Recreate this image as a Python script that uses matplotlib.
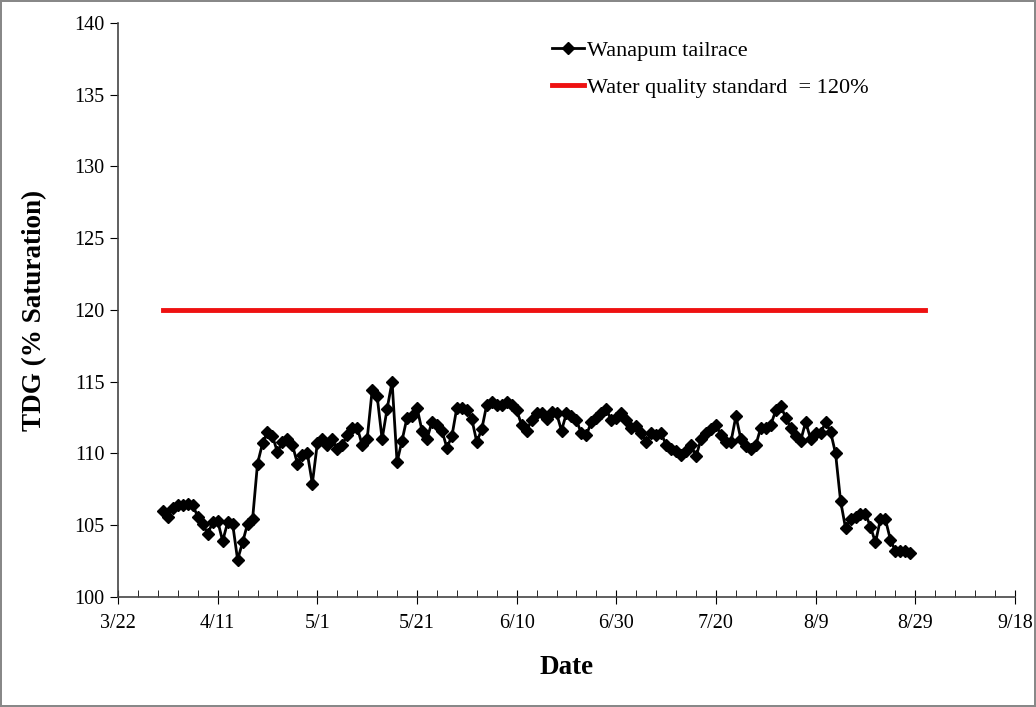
import matplotlib
matplotlib.use("Agg")
import matplotlib.pyplot as plt
import numpy as np
import datetime as dt

# daily TDG readings at Wanapum tailrace, starting 3/31
start = dt.date(2010, 3, 31)
tdg = [
    106.0, 105.6, 106.2, 106.4, 106.4, 106.5, 106.4, 105.6, 105.1, 104.4,
    105.2, 105.3, 103.9, 105.2, 105.1, 102.6, 103.8, 105.1, 105.4, 109.3,
    110.7, 111.5, 111.2, 110.1, 110.8, 111.0, 110.6, 109.3, 109.9, 110.0,
    107.9, 110.7, 111.0, 110.6, 111.0, 110.3, 110.6, 111.3, 111.8, 111.8,
    110.6, 111.0, 114.4, 114.0, 111.0, 113.1, 115.0, 109.4, 110.9, 112.5,
    112.6, 113.2, 111.6, 111.0, 112.2, 112.0, 111.6, 110.4, 111.2, 113.2,
    113.2, 113.0, 112.4, 110.8, 111.7, 113.4, 113.6, 113.4, 113.4, 113.6,
    113.4, 113.0, 112.0, 111.6, 112.3, 112.8, 112.8, 112.4, 112.9, 112.8,
    111.6, 112.8, 112.6, 112.3, 111.4, 111.3, 112.2, 112.5, 112.8, 113.1,
    112.3, 112.5, 112.8, 112.3, 111.8, 111.9, 111.4, 110.8, 111.4, 111.3,
    111.4, 110.6, 110.3, 110.2, 109.9, 110.2, 110.6, 109.8, 111.0, 111.4,
    111.7, 112.0, 111.3, 110.8, 110.8, 112.6, 111.0, 110.5, 110.3, 110.6,
    111.8, 111.8, 112.0, 113.0, 113.3, 112.5, 111.8, 111.2, 110.9, 112.2,
    111.0, 111.4, 111.4, 112.2, 111.5, 110.0, 106.7, 104.8, 105.4, 105.6,
    105.8, 105.8, 104.9, 103.8, 105.4, 105.4, 104.0, 103.2, 103.2, 103.2,
    103.1,
]
dates = [start + dt.timedelta(days=i) for i in range(len(tdg))]

std_dates = [dt.date(2010, 3, 31), dt.date(2010, 8, 31)]
std_vals = [120, 120]

plt.rcParams['font.family'] = ['Liberation Serif', 'DejaVu Serif']

fig = plt.figure(figsize=(10.36, 7.07), dpi=100)
fig.patch.set_edgecolor('#888888')
fig.patch.set_linewidth(1.5)
ax = fig.add_axes([0.1139, 0.1556, 0.8658, 0.8119])

ax.plot(dates, tdg, color='black', lw=2, marker='D', ms=6, label='Wanapum tailrace')
ax.plot(std_dates, std_vals, color='#ee1111', lw=3.5, label='Water quality standard  = 120%')

ax.set_xlim(dt.date(2010, 3, 22), dt.date(2010, 9, 18))
ax.set_ylim(100, 140)
ax.set_yticks(np.arange(100, 141, 5))

ticks = [dt.date(2010, 3, 22) + dt.timedelta(days=20 * i) for i in range(10)]
ax.set_xticks(ticks)
ax.set_xticklabels([f"{d.month}/{d.day}" for d in ticks])
minor = [dt.date(2010, 3, 22) + dt.timedelta(days=4 * i) for i in range(46)]
ax.set_xticks(minor, minor=True)

ax.spines['top'].set_visible(False)
ax.spines['right'].set_visible(False)
for s in ['left', 'bottom']:
    ax.spines[s].set_linewidth(1.2)
    ax.spines[s].set_color('#444444')

ax.tick_params(axis='x', which='major', direction='inout', length=10, labelsize=14.5, pad=7)
ax.tick_params(axis='x', which='minor', direction='in', length=5)
ax.tick_params(axis='y', which='major', direction='out', length=6, labelsize=14.5)

ax.set_ylabel('TDG (% Saturation)', fontsize=19.5, fontweight='bold', labelpad=20)
ax.set_xlabel('Date', fontsize=19.5, fontweight='bold', labelpad=16)

ax.legend(loc='upper left', bbox_to_anchor=(0.462, 1.005), frameon=False, fontsize=16,
          handlelength=1.4, handletextpad=0.15, labelspacing=0.75)

fig.savefig('out.png', dpi=100, edgecolor=fig.get_edgecolor())
